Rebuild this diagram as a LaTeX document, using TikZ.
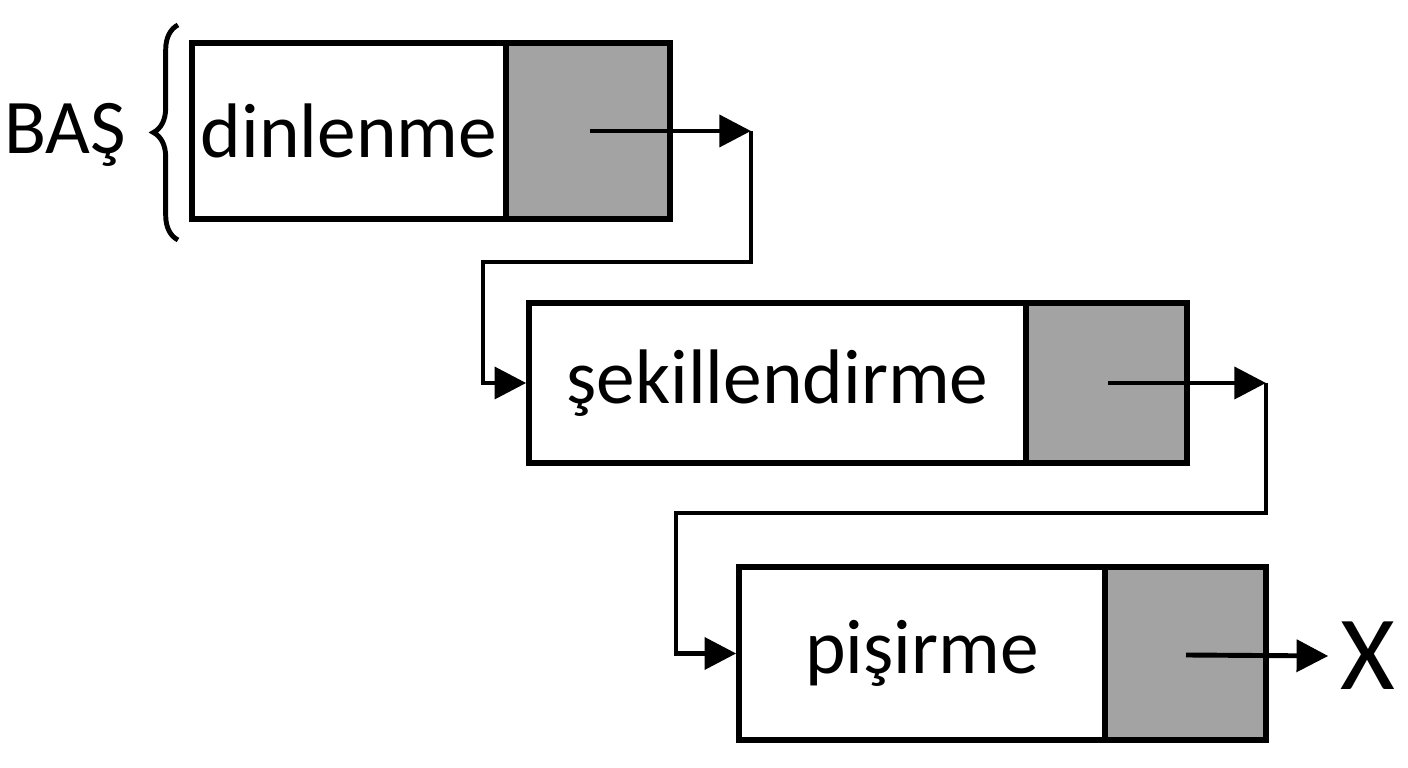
\documentclass[tikz,border=0pt]{standalone}
\usepackage{fontspec}
\setmainfont{Carlito}
\usetikzlibrary{arrows.meta,decorations.pathreplacing}
\begin{document}
\begin{tikzpicture}[x=1cm,y=1cm,
  data part/.style={draw, line width=1.6pt, minimum height=#1, inner sep=0pt, font=\fontsize{22}{24}\selectfont},
  ptr part/.style={draw, line width=1.6pt, fill=black!36, minimum height=#1, inner sep=0pt},
  link/.style={line width=1.4pt},
  tip/.style={-{Triangle[length=9pt,width=9pt]}, line width=1.4pt}]
\useasboundingbox (0,0) rectangle (14.08,7.68);
% Nodes
\node[data part=1.76cm, minimum width=3.14cm] (d1) at (3.49,6.37) {dinlenme};
\node[ptr part=1.76cm, minimum width=1.64cm] (p1) at (5.88,6.37) {};
\node[data part=1.60cm, minimum width=4.97cm] (d2) at (7.775,3.85) {şekillendirme};
\node[ptr part=1.60cm, minimum width=1.61cm] (p2) at (11.065,3.85) {};
\node[data part=1.73cm, minimum width=3.66cm] (d3) at (9.22,1.145) {pişirme};
\node[ptr part=1.73cm, minimum width=1.61cm] (p3) at (11.855,1.145) {};
\node[font=\fontsize{22}{24}\selectfont] (bas) at (0.65,6.33) {BAŞ};
\node[font=\fontsize{30}{32}\selectfont] (nil) at (13.68,1.12) {X};
% connectors
\coordinate (e1) at (7.51,6.37);
\coordinate (e2) at (12.66,3.85);
\draw[tip] (5.9,6.37) -- (e1);
\draw[tip] (e1) |- (4.83,5.06) |- (d2.west);
\draw[tip] (11.08,3.85) -- (e2);
\draw[tip] (e2) |- (6.76,2.55) |- (d3.west);
\draw[tip] (11.86,1.13) -- (nil.west);
\draw[line width=1.4pt, decorate,
  decoration={brace, amplitude=7pt}] (1.78,5.28) -- (1.78,7.43);
\end{tikzpicture}
\end{document}
